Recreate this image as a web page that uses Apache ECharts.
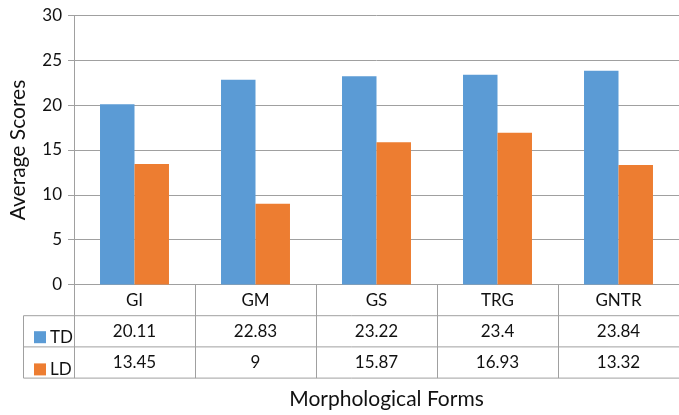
<!DOCTYPE html>
<html>
<head>
<meta charset="utf-8">
<script src="https://cdn.jsdelivr.net/npm/echarts@6/dist/echarts.min.js"></script>
<style>
html,body{margin:0;padding:0;background:#fff;}
#chart{width:679px;height:415px;}
</style>
</head>
<body>
<div id="chart"></div>
<script>
const categories = ['GI', 'GM', 'GS', 'TRG', 'GNTR'];
const tdValues = [20.11, 22.83, 23.22, 23.4, 23.84];
const ldValues = [13.45, 9, 15.87, 16.93, 13.32];
const seriesNames = ['TD', 'LD'];
const yTicks = [0, 5, 10, 15, 20, 25, 30];

const FONT = 'Lato';
const LINE = '#a0a0a0';
const TXT = '#111111';

const gridLeft = 73.5, gridTop = 15.5, gridBottomY = 284.5, gridRight = -10;
const rowH = 31.2;

const chart = echarts.init(document.getElementById('chart'), null, {renderer: 'canvas'});

const rowY1 = gridBottomY + rowH, rowY2 = gridBottomY + 2 * rowH, rowY3 = gridBottomY + 3 * rowH;
const legendLeftX = 23.5;

function hline(y, x1, x2) {
  return {type: 'line', shape: {x1: x1, y1: y, x2: x2, y2: y}, style: {stroke: LINE, lineWidth: 1}, silent: true};
}
function vline(x, y1, y2) {
  return {type: 'line', shape: {x1: x, y1: y1, x2: x, y2: y2}, style: {stroke: LINE, lineWidth: 1}, silent: true};
}

const option = {
  animation: false,
  textStyle: {fontFamily: FONT},
  color: ['#5b9bd5', '#ed7d31'],
  grid: {left: gridLeft, top: gridTop, right: gridRight, bottom: 415 - gridBottomY, containLabel: false},
  legend: {
    data: seriesNames,
    orient: 'vertical',
    left: 29,
    top: gridBottomY + rowH + 8,
    itemWidth: 12,
    itemHeight: 12,
    itemGap: rowH - 16,
    icon: 'rect',
    textStyle: {fontFamily: FONT, fontSize: 17, color: TXT, lineHeight: 16, padding: [0, 0, 0, -1]},
    selectedMode: false
  },
  xAxis: {
    type: 'category',
    data: categories,
    axisLine: {lineStyle: {color: LINE, width: 1}},
    axisTick: {show: true, length: rowH * 3, lineStyle: {color: LINE, width: 1}},
    axisLabel: {
      margin: 0,
      interval: 0,
      fontFamily: FONT,
      fontSize: 17,
      color: TXT,
      lineHeight: rowH,
      formatter: function (v, i) {
        return v + '\n' + tdValues[i] + '\n' + ldValues[i];
      }
    },
    name: 'Morphological Forms',
    nameLocation: 'middle',
    nameGap: 104,
    nameTextStyle: {fontFamily: FONT, fontSize: 21, color: TXT, padding: [0, 0, 0, 20]}
  },
  yAxis: {
    type: 'value',
    min: yTicks[0],
    max: yTicks[yTicks.length - 1],
    interval: yTicks[1] - yTicks[0],
    axisLine: {show: true, lineStyle: {color: LINE, width: 1}},
    axisTick: {show: true, length: 6, lineStyle: {color: LINE}},
    axisLabel: {margin: 12, fontFamily: FONT, fontSize: 17, color: TXT},
    splitLine: {show: true, lineStyle: {color: LINE, width: 1}},
    name: 'Average Scores',
    nameLocation: 'middle',
    nameGap: 45,
    nameTextStyle: {fontFamily: FONT, fontSize: 21, color: TXT}
  },
  series: [
    {name: seriesNames[0], type: 'bar', data: tdValues, barGap: '0%', barCategoryGap: '43%'},
    {name: seriesNames[1], type: 'bar', data: ldValues, barGap: '0%', barCategoryGap: '43%'}
  ],
  graphic: [
    hline(rowY1, legendLeftX, 700),
    hline(rowY2, legendLeftX, 700),
    hline(rowY3, legendLeftX, 700),
    vline(legendLeftX, rowY1, rowY3)
  ]
};
chart.setOption(option);
</script>
</body>
</html>
